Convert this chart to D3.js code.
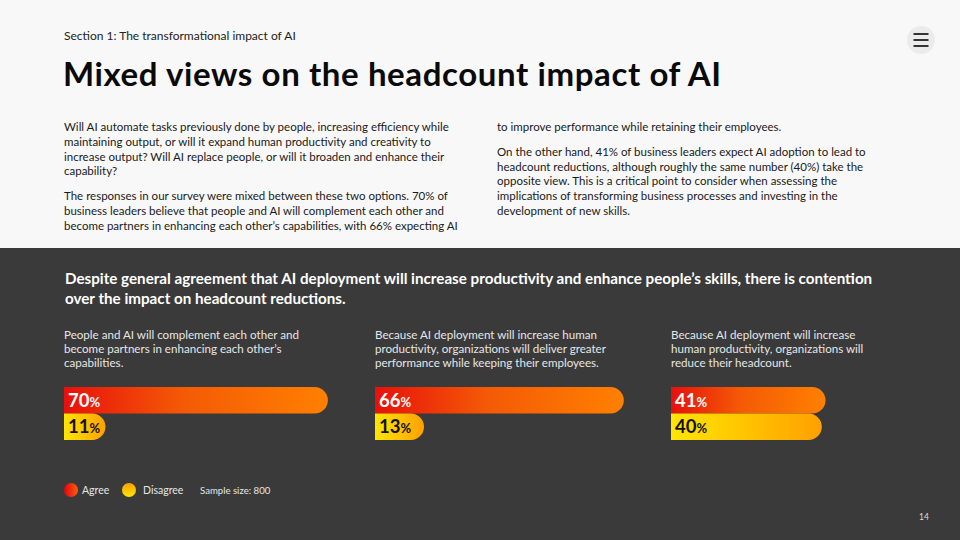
<!DOCTYPE html>
<html><head><meta charset="utf-8">
<script src="https://cdn.jsdelivr.net/npm/d3@7"></script>
<style>
html,body{margin:0;padding:0;background:#f8f8f8;}
svg{display:block;}
</style></head>
<body>
<svg id="c" width="960" height="540"></svg>
<script>
const sectionLabel = "Section 1: The transformational impact of AI";
const title = "Mixed views on the headcount impact of AI";
const bodyLeft = [
  ["Will AI automate tasks previously done by people, increasing efficiency while",
   "maintaining output, or will it expand human productivity and creativity to",
   "increase output? Will AI replace people, or will it broaden and enhance their",
   "capability?"],
  ["The responses in our survey were mixed between these two options. 70% of",
   "business leaders believe that people and AI will complement each other and",
   "become partners in enhancing each other\u2019s capabilities, with 66% expecting AI"]
];
const bodyRight = [
  ["to improve performance while retaining their employees."],
  ["On the other hand, 41% of business leaders expect AI adoption to lead to",
   "headcount reductions, although roughly the same number (40%) take the",
   "opposite view. This is a critical point to consider when assessing the",
   "implications of transforming business processes and investing in the",
   "development of new skills."]
];
const headline = [
  "Despite general agreement that AI deployment will increase productivity and enhance people\u2019s skills, there is contention",
  "over the impact on headcount reductions."
];
const questions = [
  ["People and AI will complement each other and", "become partners in enhancing each other\u2019s", "capabilities."],
  ["Because AI deployment will increase human", "productivity, organizations will deliver greater", "performance while keeping their employees."],
  ["Because AI deployment will increase", "human productivity, organizations will", "reduce their headcount."]
];
const agree = [70, 66, 41];
const disagree = [11, 13, 40];
const series = ["Agree", "Disagree"];
const sampleNote = "Sample size: 800";
const pageNumber = "14";

const svg = d3.select("#c");
const W = 960, H = 540;
const FONT = "Lato, 'Open Sans', sans-serif";

// backgrounds
svg.append("rect").attr("width", W).attr("height", 248).attr("fill", "#f8f8f8");
svg.append("rect").attr("y", 248).attr("width", W).attr("height", H - 248).attr("fill", "#3a3a3a");

// gradients
const defs = svg.append("defs");
const gA = defs.append("linearGradient").attr("id", "gA").attr("x1", "0%").attr("x2", "100%");
gA.append("stop").attr("offset", "0%").attr("stop-color", "#e8100c");
gA.append("stop").attr("offset", "45%").attr("stop-color", "#f45a06");
gA.append("stop").attr("offset", "100%").attr("stop-color", "#ff8000");
const gD = defs.append("linearGradient").attr("id", "gD").attr("x1", "0%").attr("x2", "100%");
gD.append("stop").attr("offset", "0%").attr("stop-color", "#ffe600");
gD.append("stop").attr("offset", "100%").attr("stop-color", "#ffa000");
const gAc = defs.append("linearGradient").attr("id", "gAc").attr("x1", "0%").attr("x2", "100%");
gAc.append("stop").attr("offset", "0%").attr("stop-color", "#e8000c");
gAc.append("stop").attr("offset", "100%").attr("stop-color", "#f86010");
const gDc = defs.append("linearGradient").attr("id", "gDc").attr("x1", "0%").attr("x2", "0%").attr("y1", "100%").attr("y2", "0%");
gDc.append("stop").attr("offset", "0%").attr("stop-color", "#ffe600");
gDc.append("stop").attr("offset", "100%").attr("stop-color", "#ffa000");

// header
svg.append("text").attr("x", 64).attr("y", 40).attr("font-family", FONT)
  .attr("font-size", 12).attr("fill", "#222").text(sectionLabel);
svg.append("text").attr("x", 63).attr("y", 86).attr("font-family", "Lato, sans-serif")
  .attr("font-weight", 700).attr("font-size", 33).attr("letter-spacing", 0.6).attr("fill", "#0a0a0a").text(title);

// menu icon
svg.append("circle").attr("cx", 921).attr("cy", 40).attr("r", 14).attr("fill", "#ebebeb");
[-6, 0, 6].forEach(d => svg.append("rect").attr("x", 913.5).attr("y", 39 + d).attr("width", 15).attr("height", 2).attr("fill", "#333"));

function para(x, y0, paras, gap, lh, size, color) {
  let y = y0;
  paras.forEach(p => {
    p.forEach(line => {
      svg.append("text").attr("x", x).attr("y", y).attr("font-family", FONT)
        .attr("font-size", size).attr("fill", color).text(line);
      y += lh;
    });
    y += gap;
  });
}
para(64, 131, bodyLeft, 10, 14.8, 11.5, "#1a1a1a");
para(497, 131, bodyRight, 10, 14.8, 11.5, "#1a1a1a");

// headline
headline.forEach((l, i) => svg.append("text").attr("x", 65).attr("y", 284 + i * 19.5)
  .attr("font-family", FONT).attr("font-weight", 700).attr("font-size", 15.2).attr("fill", "#fff").text(l));

// groups
const groupX = [64, 375, 671];
const x = d3.scaleLinear().domain([0, 100]).range([0, 377]);
const barH = 26.5, barY = 387;

function barPath(w, h) {
  const r = Math.min(h / 2, w);
  return `M0,0 H${w - r} A${r},${r} 0 0 1 ${w},${r} V${h - r} A${r},${r} 0 0 1 ${w - r},${h} H0 Z`;
}

questions.forEach((q, i) => {
  const g = svg.append("g").attr("transform", `translate(${groupX[i]},0)`);
  q.forEach((l, j) => g.append("text").attr("x", 0).attr("y", 339 + j * 14.2)
    .attr("font-family", FONT).attr("font-size", 11.6).attr("fill", "#e6e6e6").text(l));
  const vals = [agree[i], disagree[i]];
  vals.forEach((v, k) => {
    const y = barY + k * barH;
    g.append("path").attr("transform", `translate(0,${y})`)
      .attr("d", barPath(x(v), barH)).attr("fill", k === 0 ? "url(#gA)" : "url(#gD)");
    const t = g.append("text").attr("x", 4).attr("y", y + 19.5).attr("font-family", FONT)
      .attr("fill", k === 0 ? "#fff" : "#111");
    t.append("tspan").attr("font-weight", 700).attr("font-size", 18.5).text(v);
    t.append("tspan").attr("font-weight", 700).attr("font-size", 13).text("%");
  });
});

// legend
const lg = svg.append("g");
lg.append("circle").attr("cx", 71).attr("cy", 490).attr("r", 7).attr("fill", "url(#gAc)");
lg.append("text").attr("x", 82).attr("y", 494).attr("font-family", FONT).attr("font-size", 10.5).attr("fill", "#e6e6e6").text(series[0]);
lg.append("circle").attr("cx", 129).attr("cy", 490).attr("r", 7).attr("fill", "url(#gDc)");
lg.append("text").attr("x", 143).attr("y", 494).attr("font-family", FONT).attr("font-size", 10.5).attr("fill", "#e6e6e6").text(series[1]);
lg.append("text").attr("x", 200).attr("y", 494).attr("font-family", FONT).attr("font-size", 9.6).attr("fill", "#e6e6e6").text(sampleNote);

svg.append("text").attr("x", 919).attr("y", 520).attr("font-family", FONT).attr("font-size", 8.5).attr("fill", "#ddd").text(pageNumber);
</script>
</body></html>
